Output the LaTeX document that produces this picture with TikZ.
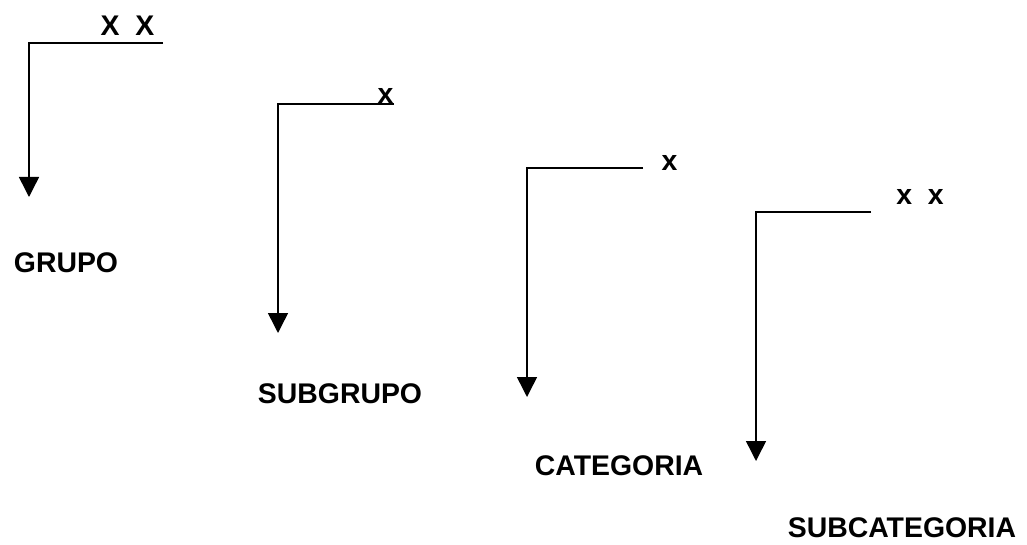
\documentclass[tikz,border=0pt]{standalone}
\usepackage{fontspec}
\setmainfont{Liberation Sans}
\usetikzlibrary{arrows.meta}

\begin{document}
\begin{tikzpicture}[x=.5pt, y=-.5pt,
	flecha/.style={line width=.75pt, -{Triangle[width=10pt,length=10pt]}},
	rotulo/.style={font=\fontsize{14.2}{17}\selectfont\bfseries, anchor=base, inner sep=0pt}]
	\useasboundingbox (0,0) rectangle (1027,545);

	% puntos de cada escalon: inicio, esquina, punta
	\foreach \n/\xi/\xf/\ya/\yb in {1/29/163/43/197, 2/278/394/104/333, 3/527/643/168/397, 4/756/871/212/461}{
		\coordinate (ini\n) at (\xf,\ya);
		\coordinate (esq\n) at (\xi,\ya);
		\coordinate (fin\n) at (\xi,\yb);
	}
	\foreach \n in {1,...,4}
		\draw[flecha] (ini\n) -- (esq\n) -- (fin\n);

	\node[rotulo] (marca1) at (127.5,36) {X\ \ X};
	\node[rotulo] (marca2) at (385.5,104) {x};
	\node[rotulo] (marca3) at (669.5,171) {x};
	\node[rotulo] (marca4) at (920,205) {x\ \ x};

	\node[rotulo] (grupo) at (66,272) {GRUPO};
	\node[rotulo] (subgrupo) at (340,403) {SUBGRUPO};
	\node[rotulo] (categoria) at (619,475) {CATEGORIA};
	\node[rotulo] (subcategoria) at (902,537) {SUBCATEGORIA};
\end{tikzpicture}
\end{document}
